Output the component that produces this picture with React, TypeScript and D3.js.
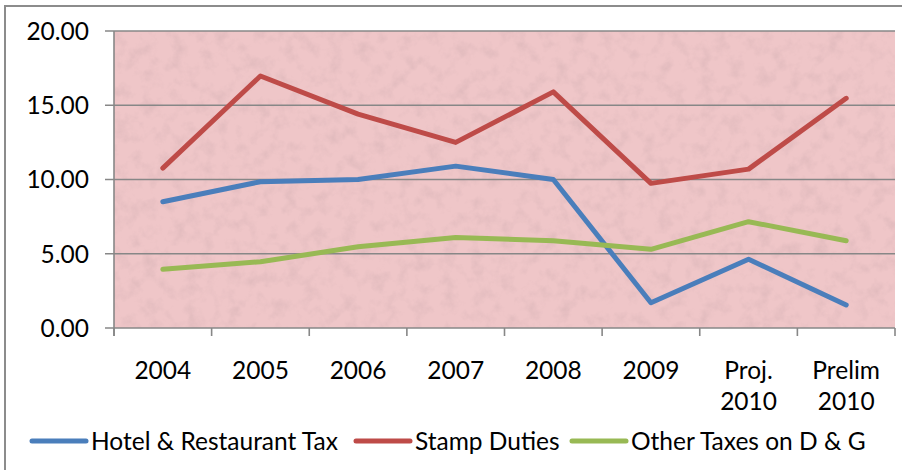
import React from "react";
import * as d3 from "d3";

const categories: string[][] = [["2004"], ["2005"], ["2006"], ["2007"], ["2008"], ["2009"], ["Proj.", "2010"], ["Prelim", "2010"]];
const hotelTax = [8.5, 9.85, 10.0, 10.9, 10.0, 1.7, 4.63, 1.55];
const stampDuties = [10.77, 16.97, 14.4, 12.5, 15.9, 9.74, 10.7, 15.47];
const otherTaxes = [3.95, 4.46, 5.47, 6.1, 5.88, 5.3, 7.16, 5.88];
const yTicks = [0, 5, 10, 15, 20];
const seriesNames = ["Hotel & Restaurant Tax", "Stamp Duties", "Other Taxes on D & G"];
const seriesColors = ["#4A7EBB", "#BE4B48", "#98B954"];

export default function App() {
  const W = 902, H = 470;
  const left = 114, right = 895, top = 31, bottom = 328;
  const font = "Lato, 'Open Sans', sans-serif";
  const fs = 24.5;
  const x = d3.scaleBand<number>().domain(d3.range(categories.length)).range([left, right]).padding(0);
  const y = d3.scaleLinear().domain([0, 20]).range([bottom, top]);
  const line = d3.line<number>().x((_, i) => (x(i) as number) + x.bandwidth() / 2).y((d) => y(d));
  const series = [hotelTax, stampDuties, otherTaxes];
  const legendX = [32, 356, 572];
  const legendY = 441;

  return (
    <svg width={W} height={H} style={{ position: "absolute", left: 0, top: 0, display: "block" }}>
      <defs>
        <filter id="tex" x="0" y="0" width="100%" height="100%">
          <feTurbulence type="fractalNoise" baseFrequency="0.07" numOctaves="4" seed="5" result="n" />
          <feColorMatrix in="n" type="matrix"
            values="0 0 0 0 0.6  0 0 0 0 0.4  0 0 0 0 0.42  0 0 0 -2.4 1.3" />
        </filter>
      </defs>
      <rect x={0} y={0} width={W} height={H} fill="#fff" />
      <rect x={5} y={6} width={W + 10} height={H + 10} fill="#fff" stroke="#8C8C8C" strokeWidth={2} />
      <rect x={left} y={top} width={right - left} height={bottom - top} fill="#EFC6C8" />
      <rect x={left} y={top} width={right - left} height={bottom - top} filter="url(#tex)" opacity={0.35} />
      {yTicks.map((t) => (
        <g key={t}>
          <line x1={left - 9} x2={right} y1={y(t)} y2={y(t)} stroke="#878787" strokeWidth={1.6} />
          <text x={89} y={y(t)} dy="0.36em" textAnchor="end" fontFamily={font} fontSize={fs} fill="#000">
            {d3.format(".2f")(t)}
          </text>
        </g>
      ))}
      <line x1={left} x2={left} y1={top} y2={bottom + 8} stroke="#878787" strokeWidth={1.6} />
      {d3.range(categories.length + 1).map((i) => {
        const xx = i < categories.length ? (x(i) as number) : right;
        return <line key={i} x1={xx} x2={xx} y1={bottom} y2={bottom + 8} stroke="#878787" strokeWidth={1.6} />;
      })}
      {categories.map((c, i) => (
        <text key={i} x={(x(i) as number) + x.bandwidth() / 2} y={379} textAnchor="middle" fontFamily={font} fontSize={fs} fill="#000">
          {c.map((s, j) => (
            <tspan key={j} x={(x(i) as number) + x.bandwidth() / 2} dy={j === 0 ? 0 : 31}>{s}</tspan>
          ))}
        </text>
      ))}
      {series.map((s, k) => (
        <path key={k} d={line(s) as string} fill="none" stroke={seriesColors[k]} strokeWidth={5} strokeLinejoin="round" strokeLinecap="round" />
      ))}
      {seriesNames.map((n, k) => (
        <g key={n}>
          <line x1={legendX[k]} x2={legendX[k] + 54} y1={legendY} y2={legendY} stroke={seriesColors[k]} strokeWidth={5} strokeLinecap="round" />
          <text x={legendX[k] + 59} y={legendY} dy="0.36em" fontFamily={font} fontSize={fs} fill="#000">{n}</text>
        </g>
      ))}
    </svg>
  );
}
